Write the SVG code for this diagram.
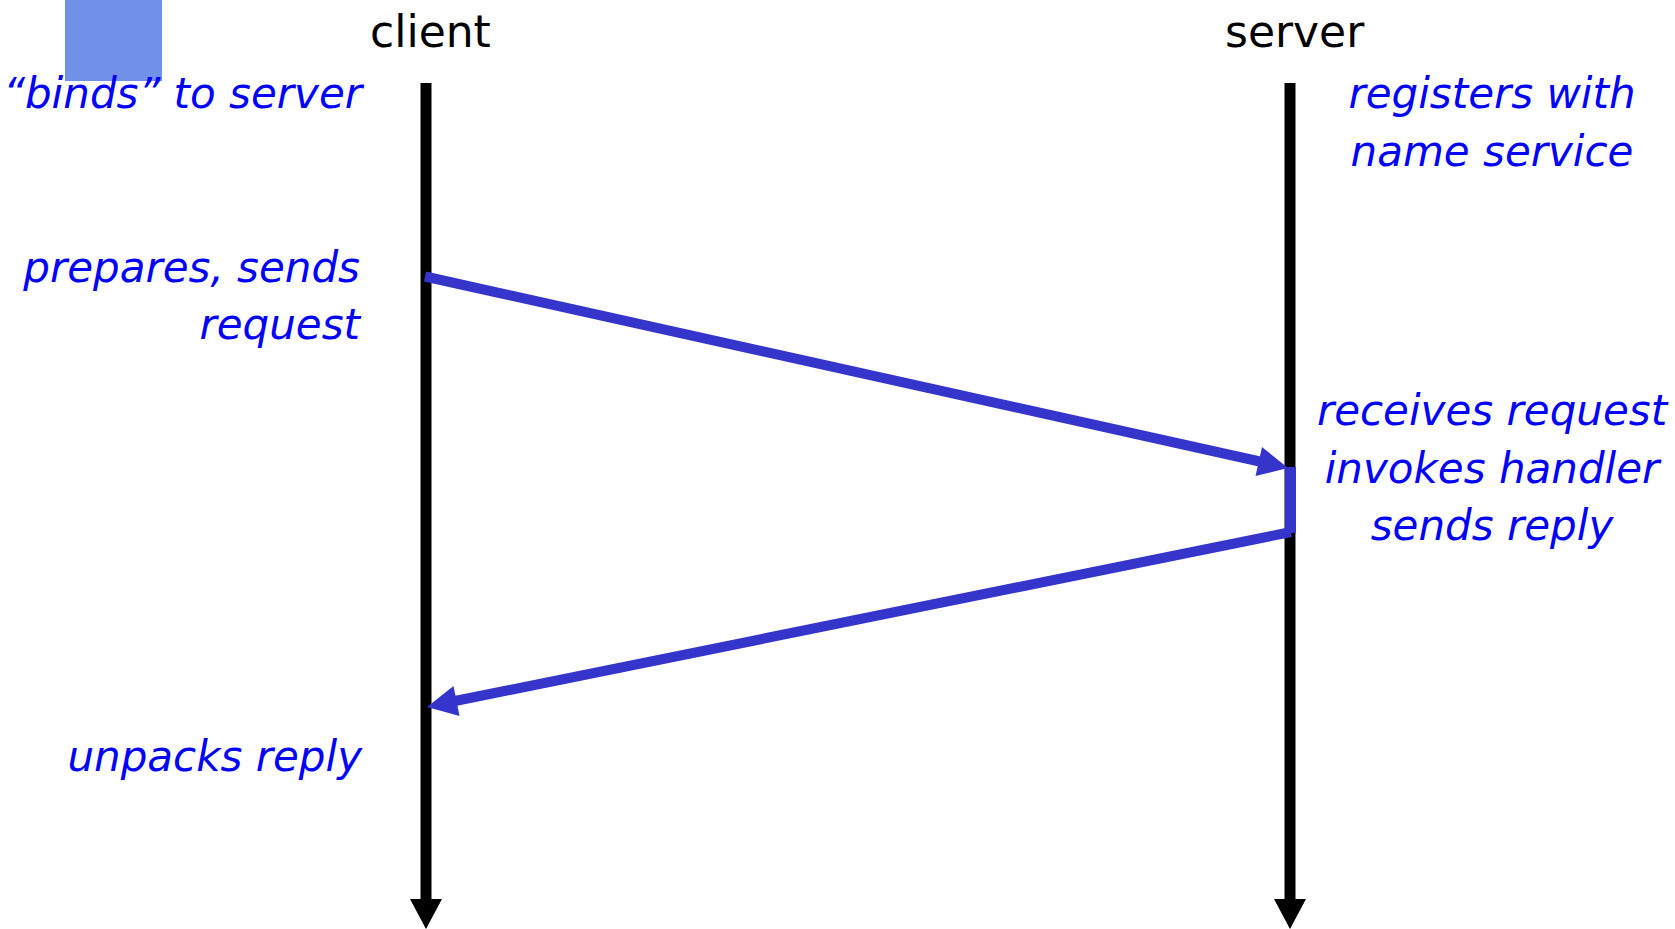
<svg xmlns="http://www.w3.org/2000/svg" width="1675" height="929" viewBox="0 0 1675 929">
<style>
.hdr{font-family:"DejaVu Sans","Liberation Sans",sans-serif;font-size:44px;fill:#000}
.note{font-family:"DejaVu Sans","Liberation Sans",sans-serif;font-size:42px;font-style:italic;fill:#0000FF}
.life{stroke:#000;stroke-width:11;fill:none}
.msg{stroke:#3535CC;stroke-width:10;fill:none}
.head{fill:#3535CC}
</style>
<rect x="0" y="0" width="1675" height="929" fill="#fff"/>
<rect id="decor" x="65" y="0" width="97" height="81" fill="#7190E8"/>
<g id="client">
  <text class="hdr" x="370" y="47">client</text>
  <line class="life" x1="426" y1="83" x2="426" y2="902"/>
  <polygon points="410,899 442,899 426,929" fill="#000"/>
</g>
<g id="server">
  <text class="hdr" x="1225" y="47">server</text>
  <line class="life" x1="1290" y1="83" x2="1290" y2="902"/>
  <polygon points="1274,899 1306,899 1290,929" fill="#000"/>
</g>
<g id="client-notes">
  <text class="note" x="362" y="108" text-anchor="end">“binds” to server</text>
  <text class="note" x="360" y="282" text-anchor="end">prepares, sends</text>
  <text class="note" x="360" y="339" text-anchor="end">request</text>
  <text class="note" x="362" y="771" text-anchor="end">unpacks reply</text>
</g>
<g id="server-notes">
  <text class="note" x="1492" y="108" text-anchor="middle">registers with</text>
  <text class="note" x="1492" y="166" text-anchor="middle">name service</text>
  <text class="note" x="1492" y="425" text-anchor="middle">receives request</text>
  <text class="note" x="1492" y="483" text-anchor="middle">invokes handler</text>
  <text class="note" x="1492" y="540" text-anchor="middle">sends reply</text>
</g>
<g id="connectors">
  <line class="msg" x1="425" y1="276.5" x2="1262" y2="462"/>
  <polygon class="head" points="1288,468 1262,447 1255.5,476"/>
  <rect x="1285" y="467" width="11" height="66" fill="#3535CC"/>
  <line class="msg" x1="1291" y1="532" x2="455" y2="701"/>
  <polygon class="head" points="427,707 459.5,716 453.5,686"/>
</g>
</svg>
